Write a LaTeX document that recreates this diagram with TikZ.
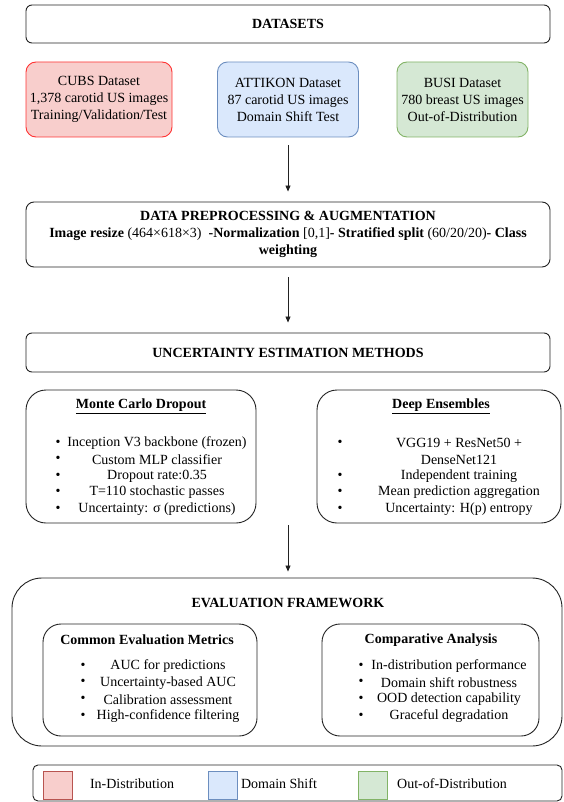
\documentclass[tikz,border=0pt]{standalone}
\usepackage{fontspec}
\setmainfont{Liberation Serif}
\usetikzlibrary{arrows.meta}
\definecolor{redfill}{HTML}{F8CECC}
\definecolor{redline}{HTML}{FF3333}
\definecolor{redleg}{HTML}{B85450}
\definecolor{bluefill}{HTML}{DAE8FC}
\definecolor{blueline}{HTML}{6C8EBF}
\definecolor{greenfill}{HTML}{D5E8D4}
\definecolor{greenline}{HTML}{82B366}
\definecolor{edge}{HTML}{222222}
\begin{document}
\begin{tikzpicture}[x=1pt,y=-1pt,
  rbox/.style={draw=edge, line width=0.9pt, rounded corners=#1, inner sep=0pt, align=center,
    font=\fontsize{14}{17}\selectfont},
  txt/.style={inner sep=0pt, align=center, font=\fontsize{14}{17}\selectfont},
  bul/.style={inner sep=0pt, font=\fontsize{14}{17}\selectfont},
  swatch/.style={draw=#1, line width=0.9pt, minimum width=29pt, minimum height=28pt, inner sep=0pt},
  arr/.style={draw=edge, line width=0.8pt, -{Triangle[length=6pt,width=5pt]}}]
\useasboundingbox (0,0) rectangle (563,802);

% top header
\node[rbox=6, minimum width=524pt, minimum height=38pt] (datasets) at (288,24) {\textbf{DATASETS}};

% datasets
\node[rbox=10, draw=redline, fill=redfill, minimum width=146pt, minimum height=75pt] (cubs) at (99,99.5)
  {CUBS Dataset\\1,378 carotid US images\\Training/Validation/Test};
\node[rbox=10, draw=blueline, fill=bluefill, minimum width=141pt, minimum height=75pt] (attikon) at (288,99.5)
  {ATTIKON Dataset\\87 carotid US images\\Domain Shift Test};
\node[rbox=10, draw=greenline, fill=greenfill, minimum width=131pt, minimum height=75pt] (busi) at (462.5,99.5)
  {BUSI Dataset\\780 breast US images\\Out-of-Distribution};

% preprocessing
\node[rbox=8, minimum width=524pt, minimum height=65pt] (prep) at (288,234.5)
  {\textbf{DATA PREPROCESSING \& AUGMENTATION}\\
   \textbf{Image resize} (464×618×3)\ \ \textbf{-Normalization} [0,1]\textbf{- Stratified split} (60/20/20)\textbf{- Class}\\
   \textbf{weighting}};

% uncertainty header
\node[rbox=6, minimum width=524pt, minimum height=39pt] (unc) at (288,352.5) {\textbf{UNCERTAINTY ESTIMATION METHODS}};

% MC dropout
\node[rbox=20, minimum width=230pt, minimum height=133pt] (mc) at (141,456.5) {};
\node[txt] (mct) at (141,406) {\textbf{\underline{Monte Carlo Dropout}}};
\foreach \t [count=\i] in {Inception V3 backbone (frozen), Custom MLP classifier, Dropout rate:0.35, T=110 stochastic passes, Uncertainty: σ (predictions)} {
  \node[bul] (mcb\i) at (58,{443+16.5*(\i-1)}) {\textbullet};
  \node[txt] (mcl\i) at (157,{443+16.5*(\i-1)}) {\t};
}

% Deep ensembles
\node[rbox=20, minimum width=244pt, minimum height=133pt] (de) at (439,456.5) {};
\node[txt] (det) at (441,406) {\textbf{\underline{Deep Ensembles}}};
\node[bul] (deb1) at (340,443) {\textbullet};
\node[txt] (del1) at (459,443) {VGG19 + ResNet50 +};
\node[txt] (del2) at (459,459.5) {DenseNet121};
\node[bul] (deb3) at (340,476) {\textbullet};
\node[txt] (del3) at (459,476) {Independent training};
\node[bul] (deb4) at (340,492.5) {\textbullet};
\node[txt] (del4) at (459,492.5) {Mean prediction aggregation};
\node[bul] (deb5) at (340,509) {\textbullet};
\node[txt] (del5) at (459,509) {Uncertainty: H(p) entropy};

% evaluation framework
\node[rbox=30, minimum width=550pt, minimum height=168pt] (eval) at (287,662) {};
\node[txt] (evt) at (288,603) {\textbf{EVALUATION FRAMEWORK}};

\node[rbox=18, minimum width=214pt, minimum height=112pt] (cem) at (150,680) {};
\node[txt] (cemt) at (147,640) {\textbf{Common Evaluation Metrics}};
\foreach \t [count=\i] in {AUC for predictions, Uncertainty-based AUC, Calibration assessment, High-confidence filtering} {
  \node[bul] (cemb\i) at (83,{666+16.7*(\i-1)}) {\textbullet};
  \node[txt] (ceml\i) at (168,{666+16.7*(\i-1)}) {\t};
}

\node[rbox=18, minimum width=217pt, minimum height=112pt] (comp) at (430.5,680) {};
\node[txt] (compt) at (431,640) {\textbf{Comparative Analysis}};
\foreach \t [count=\i] in {In-distribution performance, Domain shift robustness, OOD detection capability, Graceful degradation} {
  \node[bul] (compb\i) at (361,{666+16.7*(\i-1)}) {\textbullet};
  \node[txt] (compl\i) at (449,{666+16.7*(\i-1)}) {\t};
}

% legend
\node[rbox=5, minimum width=529pt, minimum height=36pt] (legend) at (297.5,783) {};
\node[swatch=redleg, fill=redfill] (sw1) at (57.5,785) {};
\node[txt] (lg1) at (132,784) {In-Distribution};
\node[swatch=blueline, fill=bluefill] (sw2) at (223,785) {};
\node[txt] (lg2) at (279,784) {Domain Shift};
\node[swatch=greenline, fill=greenfill] (sw3) at (372.5,785) {};
\node[txt] (lg3) at (452,784) {Out-of-Distribution};

% arrows
\draw[arr, shorten <=8pt, shorten >=10pt] (attikon.south) -- (prep.north);
\draw[arr, shorten <=10pt, shorten >=10pt] (prep.south) -- (unc.north);
\coordinate (a3) at (288,525);
\draw[arr, shorten >=6pt] (a3) -- (a3 |- eval.north);
\end{tikzpicture}
\end{document}
